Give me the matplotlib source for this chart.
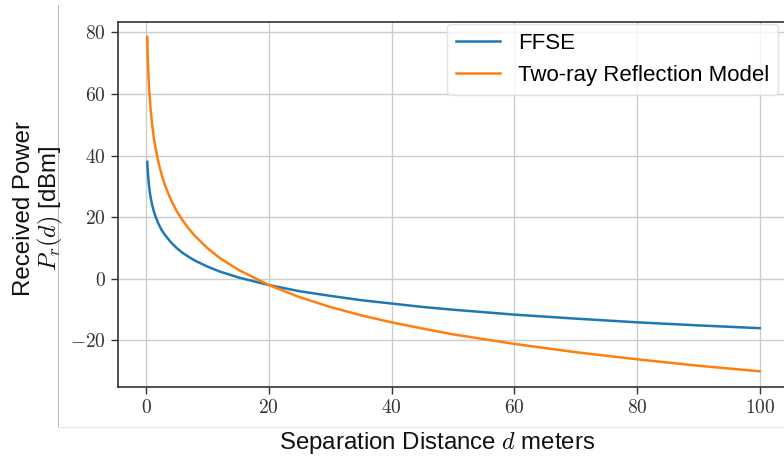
import matplotlib
matplotlib.use("Agg")
import matplotlib.pyplot as plt
from matplotlib.lines import Line2D
from matplotlib.ticker import FuncFormatter

plt.rcParams['font.family'] = ['Liberation Sans', 'DejaVu Sans']
plt.rcParams['mathtext.fontset'] = 'cm'

# distances (m) and received power (dBm)
distance = [0.2, 0.25, 0.3, 0.4, 0.5, 0.6, 0.75, 1, 1.25, 1.5, 2, 2.5, 3, 4,
            5, 6, 7, 8, 10, 12, 15, 20, 25, 30, 35, 40, 45, 50, 60, 70, 80,
            90, 100]
ffse = [38.0, 36.0, 34.5, 32.0, 30.0, 28.4, 26.5, 24.0, 22.1, 20.5, 18.0,
        16.0, 14.5, 12.0, 10.0, 8.4, 7.1, 5.9, 4.0, 2.4, 0.5, -2.0, -4.0, -5.5,
        -6.9, -8.0, -9.1, -10.0, -11.6, -12.9, -14.1, -15.1, -16.0]
two_ray = [78.5, 74.1, 70.9, 66.0, 62.0, 58.9, 55.0, 50.0, 46.1, 43.0, 38.0,
           34.1, 30.9, 25.9, 22.0, 18.9, 16.2, 13.9, 10.0, 6.8, 3.0, -2.0,
           -5.9, -9.1, -11.8, -14.1, -16.1, -18.0, -21.1, -23.8, -26.1, -28.2,
           -30.0]
series_names = ["FFSE", "Two-ray Reflection Model"]

W, H = 784, 462
fig = plt.figure(figsize=(W / 100, H / 100), dpi=100)
ax = fig.add_axes([117.8 / W, 75 / H, 672 / W, 365.3 / H])

ax.plot(distance, ffse, color="#1f77b4", lw=1.8, label=series_names[0])
ax.plot(distance, two_ray, color="#ff7f0e", lw=1.8, label=series_names[1])

ax.set_xlim(-4.6, 104.9)
ax.set_ylim(-35.1, 83.5)
ax.set_xticks([0, 20, 40, 60, 80, 100])
ax.set_yticks([-20, 0, 20, 40, 60, 80])
fmt = FuncFormatter(lambda v, p: r"$%d$" % v)
ax.xaxis.set_major_formatter(fmt)
ax.yaxis.set_major_formatter(fmt)
ax.tick_params(labelsize=14, length=5, width=1, color="#333333", labelcolor="#333333")
ax.grid(True, color="#cccccc", lw=1.0)
for s in ax.spines.values():
    s.set_color("#333333")
    s.set_linewidth(1.2)

leg = ax.legend(loc="upper right", bbox_to_anchor=(778 / W, 1 - 24 / H),
                bbox_transform=fig.transFigure, borderaxespad=0, fontsize=16.0,
                framealpha=0.8, edgecolor="#dddddd")

fig.text(437.5 / W, 1 - 443 / H, r"Separation Distance $d$ meters",
         fontsize=17.3, ha="center", va="center", color="#111111")
fig.text(39 / W, 1 - 208.5 / H, "Received Power\n$P_r(d)$ [dBm]",
         fontsize=17.3, ha="center", va="center", rotation=90,
         multialignment="center", color="#111111", linespacing=1.05)

# frame lines of the original screenshot
fig.add_artist(Line2D([58.3 / W, 58.3 / W], [1 - 5 / H, 1 - 427 / H],
                      transform=fig.transFigure, color="#b8b8b8", lw=0.8))
fig.add_artist(Line2D([58.3 / W, 1], [1 - 427 / H, 1 - 427 / H],
                      transform=fig.transFigure, color="#e6e6e6", lw=0.8))

fig.savefig("out.png", dpi=100)
